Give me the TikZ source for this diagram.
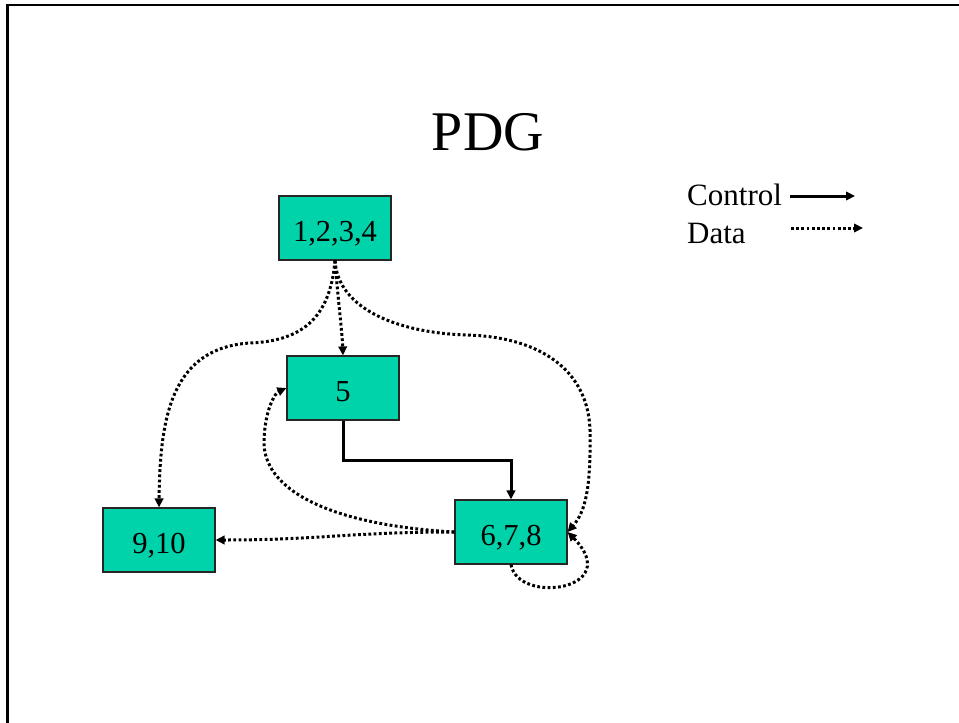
\documentclass[tikz,border=0pt]{standalone}
\usepackage{fontspec}
\setmainfont{Liberation Serif}
\usetikzlibrary{arrows.meta}
\definecolor{boxfill}{RGB}{0,210,170}
\begin{document}
\begin{tikzpicture}[x=1pt,y=-1pt,
  stmt/.style={draw=black!85,line width=1.2pt,fill=boxfill,minimum width=112pt,
    minimum height=64pt,inner sep=0pt,text height=26pt,text depth=0pt,
    font=\fontsize{30.5}{36}\selectfont},
  ctrl/.style={line width=3pt,-{Triangle[length=9pt,width=8.5pt]}},
  dataedge/.style={line width=3pt,dash pattern=on 2.8pt off 2.4pt,
    -{Triangle[length=9pt,width=8.5pt]}},
  legend/.style={anchor=base west,inner sep=0pt,font=\fontsize{31}{36}\selectfont}]
\useasboundingbox (0,0) rectangle (959,723);
% slide frame
\draw[line width=2.2pt] (7.5,723) -- (7.5,5) -- (959,5);

% title
\node[anchor=base,inner sep=0pt,font=\fontsize{56}{64}\selectfont] (title) at (488,150) {PDG};

% statement nodes
\node[stmt] (n1234) at (335,228) {1,2,3,4};
\node[stmt] (n5)    at (343,388) {5};
\node[stmt] (n910)  at (159,540) {9,10};
\node[stmt] (n678)  at (511,532) {6,7,8};

% control dependence
\draw[ctrl] (n5.south) -- (343,460) -| (n678.north);

% data dependences
\draw[dataedge] (n1234.south) .. controls (338,300) and (342,330) .. (n5.north);
\draw[dataedge] (n1234.south) .. controls (330,320) and (300,341) .. (250,343)
  .. controls (170,348) and (160,420) .. (n910.north);
\draw[dataedge] (n1234.south) .. controls (338,310) and (400,333) .. (467,335)
  .. controls (540,337) and (588,370) .. (590,430)
  .. controls (591,490) and (585,512) .. (n678.east);
\draw[dataedge] (n678.west) .. controls (330,525) and (262,490) .. (264,440)
  .. controls (265,410) and (275,393) .. (n5.west);
\draw[dataedge] (n678.west) .. controls (350,532) and (320,540) .. (n910.east);
\draw[dataedge] (n678.south) .. controls (518,605) and (625,590) .. (n678.east);

% legend
\node[legend] (lctrl) at (687,205) {Control};
\node[legend] (ldata) at (687,243) {Data};
\coordinate (c1) at (790,196);
\coordinate (c2) at (855,196);
\coordinate (d1) at (791,228);
\coordinate (d2) at (863,228);
\draw[ctrl] (c1) -- (c2);
\draw[dataedge] (d1) -- (d2);
\end{tikzpicture}
\end{document}
